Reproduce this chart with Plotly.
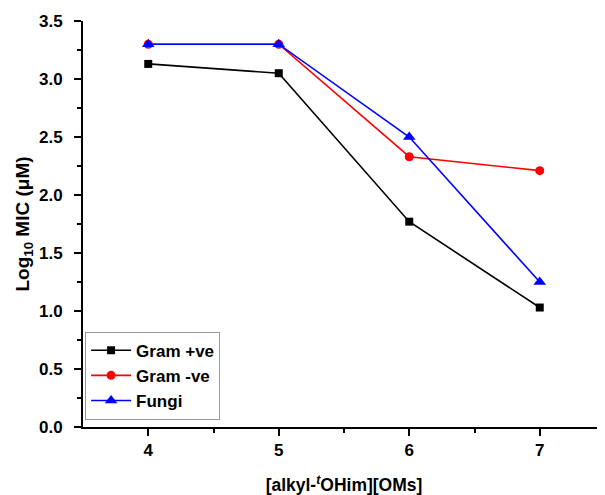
import plotly.graph_objects as go

x_vals = [4, 5, 6, 7]
gram_pos = [3.13, 3.05, 1.77, 1.03]
gram_neg = [3.30, 3.30, 2.33, 2.21]
fungi = [3.30, 3.30, 2.50, 1.25]

series = [
    ("Gram +ve", gram_pos, "black", "square", 8),
    ("Gram -ve", gram_neg, "red", "circle", 9),
    ("Fungi", fungi, "blue", "triangle-up", 11),
]

fig = go.Figure()
for name, vals, col, sym, sz in series:
    fig.add_trace(go.Scatter(
        x=x_vals, y=vals, name=name, mode="lines+markers",
        line=dict(color=col, width=1.6),
        marker=dict(symbol=sym, size=sz, color=col),
    ))

FAM = "Liberation Sans, Arial, sans-serif"

# page body has an 8px margin, so the figure is offset by 8px
fig.update_layout(
    width=597, height=487,
    margin=dict(l=75, r=0, t=13, b=68, autoexpand=False),
    plot_bgcolor="white", paper_bgcolor="white",
    font=dict(family=FAM, size=17, color="black"),
    showlegend=True,
    legend=dict(
        x=0.004, y=0.018, xanchor="left", yanchor="bottom",
        bgcolor="white", bordercolor="#999", borderwidth=1,
        font=dict(family=FAM, size=17, color="black", weight="bold"),
        tracegroupgap=0, itemwidth=40,
    ),
    xaxis=dict(
        range=[3.5, 7.5], tickvals=x_vals, ticktext=[str(v) for v in x_vals],
        showgrid=False, zeroline=False, showline=True, linecolor="black", linewidth=2,
        ticks="outside", ticklen=7, tickwidth=2, tickcolor="black",
        tickfont=dict(size=17, weight="bold"), automargin=False,
        minor=dict(tickvals=[4.5, 5.5, 6.5], ticks="outside", ticklen=4, tickwidth=1.5, tickcolor="black"),
        title=dict(text="[alkyl-<sup><i>t</i></sup>OHim][OMs]", font=dict(size=17.5, weight="bold"), standoff=22),
    ),
    yaxis=dict(
        range=[0, 3.5], tickvals=[0, 0.5, 1.0, 1.5, 2.0, 2.5, 3.0, 3.5],
        ticktext=["0.0", "0.5", "1.0", "1.5", "2.0", "2.5", "3.0", "3.5"],
        showgrid=False, zeroline=False, showline=True, linecolor="black", linewidth=2,
        ticks="outside", ticklen=7, tickwidth=2, tickcolor="black",
        tickfont=dict(size=17, weight="bold"), automargin=False, ticklabelstandoff=8,
        minor=dict(dtick=0.25, ticks="outside", ticklen=4, tickwidth=1.5, tickcolor="black"),
        title=dict(text="Log<sub>10</sub> MIC (μM)", font=dict(size=19, weight="bold"), standoff=4),
    ),
)

fig.write_html("out.html")
